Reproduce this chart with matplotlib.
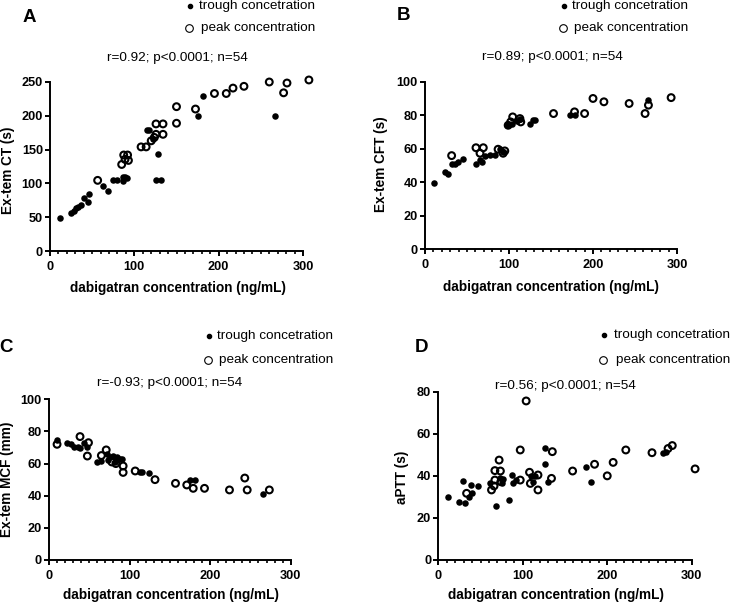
import matplotlib
matplotlib.use("Agg")
import matplotlib.pyplot as plt
from matplotlib.lines import Line2D
from matplotlib.ticker import MultipleLocator

plt.rcParams['font.family'] = ['Liberation Sans', 'DejaVu Sans']

# Panel A: Ex-tem CT (s)
a_trough_x = [12, 25, 28, 31, 33.5, 36.7, 40, 45, 46.6, 63, 68.4, 75, 79, 86, 89, 91, 86,
              114.6, 117.4, 122.5, 127.7, 125.7, 131.6, 176, 181, 267]
a_trough_y = [49, 55.8, 59, 63, 65, 68, 79, 73, 84.5, 96, 89, 104.6, 104.6, 110, 110, 107.5, 103.5,
              179, 179, 165, 143, 105, 105, 200, 229, 200]
a_peak_x = [56.5, 85, 87.4, 92, 93, 89, 108, 114, 120, 123.7, 125.7, 134, 125.7, 134,
            150, 150, 172.5, 195, 209, 217, 230, 260, 277, 281, 307]
a_peak_y = [104.5, 128, 142, 142, 134, 135.6, 154, 154, 163, 168, 188, 188, 172.6, 172.6,
            213.5, 189, 210, 233, 233, 241, 243.6, 250, 234, 248.5, 253]

# Panel B: Ex-tem CFT (s)
b_trough_x = [11, 23.8, 27.8, 31.7, 35.7, 39.7, 45.6, 61, 66, 68, 71, 77, 83, 89, 93,
              98, 103, 109, 113, 125, 129, 131, 173, 178, 266]
b_trough_y = [39.8, 46, 44.7, 50.9, 50.9, 51.9, 53.9, 50.7, 53, 52, 55.7, 56, 56, 60, 58,
              74, 75, 76.5, 78, 75, 77, 77, 80, 80, 89]
b_peak_x = [31.7, 60.7, 69.4, 65.5, 87, 95, 93, 99, 102, 104.4, 113, 114,
            153, 178, 190, 200, 213, 243, 262, 266, 293]
b_peak_y = [55.9, 60.6, 60.6, 57.3, 59.7, 58.7, 57.3, 74, 76, 79, 78, 76,
            81, 82, 81, 90, 88, 87, 81, 86, 90.5]

# Panel C: Ex-tem MCF (mm)
c_trough_x = [10, 22, 27, 31, 36, 38.5, 43, 47, 60, 64.5, 71.6, 75.7, 80, 84, 88, 90, 73.6, 82,
              113, 116, 124.5, 175, 181, 266]
c_trough_y = [74.7, 73, 72, 70.5, 70.5, 69.5, 72.6, 70.5, 61, 61.6, 66, 64, 65, 64, 63, 63, 62, 61,
              55, 55, 54, 50, 50, 41]
c_peak_x = [10, 38.5, 49, 47.6, 65, 71, 78, 92, 92, 83, 107, 131.6,
            157, 171, 179, 193, 224, 243, 246, 273.5]
c_peak_y = [72, 76.8, 73, 64.7, 65, 68.5, 61, 58.5, 54.5, 60, 55.4, 50,
            47.7, 46.7, 44.6, 44.6, 43.6, 51, 43.6, 43.6]

# Panel D: aPTT (s)
d_trough_x = [12, 25, 29, 31.6, 36.7, 38.7, 39.5, 46.6, 61, 68, 73, 75, 77, 84, 87, 88.8, 91.6,
              112.5, 110, 115, 126, 126, 130, 175, 181, 266, 270]
d_trough_y = [30, 27.7, 37.6, 27, 30, 35.7, 32, 35.2, 36.8, 25.8, 39, 36.8, 38.4, 28.5, 40.4, 36.8, 38,
              37.2, 40, 40, 45.5, 53.4, 37.2, 44.4, 37.2, 51, 51.5]
d_peak_x = [33.5, 63, 66, 67, 67, 72, 73.5, 74, 97, 97, 104, 108, 109, 118, 118,
            134, 135, 159, 185, 200, 207, 222, 253, 272, 277, 304]
d_peak_y = [31.7, 33.3, 35.2, 38, 42.5, 47.5, 42.3, 37.2, 52.3, 38, 75.6, 41.7, 36.4, 40.4, 33.3,
            38.8, 51.5, 42.3, 45.5, 40, 46.4, 52.3, 51, 53, 54.4, 43.3]

panel_letters = ['A', 'B', 'C', 'D']
y_labels = ['Ex-tem CT (s)', 'Ex-tem CFT (s)', 'Ex-tem MCF (mm)', 'aPTT (s)']
y_max = [250, 100, 100, 80]
y_step = [50, 20, 20, 20]
stats = ['r=0.92; p<0.0001; n=54', 'r=0.89; p<0.0001; n=54',
         'r=-0.93; p<0.0001; n=54', 'r=0.56; p<0.0001; n=54']
trough_label = 'trough concetration'
peak_label = 'peak concentration'
x_label = 'dabigatran concentration (ng/mL)'

panels = [(a_trough_x, a_trough_y, a_peak_x, a_peak_y),
          (b_trough_x, b_trough_y, b_peak_x, b_peak_y),
          (c_trough_x, c_trough_y, c_peak_x, c_peak_y),
          (d_trough_x, d_trough_y, d_peak_x, d_peak_y)]

W, H = 730, 605


def fx(x):
    return x / W


def fy(y):
    return 1 - y / H


# layout in pixels: axes box (left, top, right, bottom) and text anchors
axes_px = [(50, 82, 303, 251), (425, 81.7, 677, 249.3), (49, 399.3, 290.7, 560), (438.3, 391.7, 691.7, 560)]
letter_px = [(23, 17), (397, 16), (-1, 347), (415, 347)]
legend_px = [(190, 5.5, 199, 28), (564, 5.5, 572, 28), (209, 336, 217, 360), (604, 335, 614, 360)]
stats_px = [(177.5, 58), (552, 57), (170, 383), (565, 386)]
ylab_px = [(8, 170), (381, 164), (7.5, 479), (402, 477)]
xlab_px = [(177.5, 288), (551, 287), (171, 595), (556, 595)]

fig = plt.figure(figsize=(W / 100, H / 100), dpi=100)

for i, (tx, ty, px_, py_) in enumerate(panels):
    l, t, r, b = axes_px[i]
    ax = fig.add_axes([fx(l), fy(b), (r - l) / W, (b - t) / H])
    ax.scatter(px_, py_, s=24, facecolors='none', edgecolors='black', linewidths=1.5, clip_on=False, zorder=3)
    ax.scatter(tx, ty, s=22, color='black', linewidths=0, clip_on=False, zorder=4)
    ax.set_xlim(0, 300)
    ax.set_ylim(0, y_max[i])
    ax.xaxis.set_major_locator(MultipleLocator(100))
    ax.xaxis.set_minor_locator(MultipleLocator(10))
    ax.yaxis.set_major_locator(MultipleLocator(y_step[i]))
    for s in ['top', 'right']:
        ax.spines[s].set_visible(False)
    for s in ['left', 'bottom']:
        ax.spines[s].set_linewidth(1.4)
    ax.tick_params(which='major', length=3.6, width=1.4, pad=1.5, labelsize=9.2)
    ax.tick_params(axis='x', which='major', pad=3.5)
    ax.tick_params(which='minor', length=2.2, width=1.2)
    for lab in ax.get_xticklabels() + ax.get_yticklabels():
        lab.set_fontweight('bold')

    lx, ly = letter_px[i]
    fig.text(fx(lx), fy(ly), panel_letters[i], fontsize=13.5, fontweight='bold', ha='left', va='center')

    mx1, my1, tx1, my2 = legend_px[i]
    fig.add_artist(Line2D([fx(mx1)], [fy(my1)], marker='o', markersize=3, color='black',
                          linestyle='none', transform=fig.transFigure))
    fig.add_artist(Line2D([fx(mx1 - 1)], [fy(my2)], marker='o', markersize=5.5, markerfacecolor='white',
                          markeredgecolor='black', markeredgewidth=0.8, linestyle='none',
                          transform=fig.transFigure))
    fig.text(fx(tx1), fy(my1), trough_label, fontsize=9.7, ha='left', va='center')
    fig.text(fx(tx1 + 2), fy(my2), peak_label, fontsize=9.7, ha='left', va='center')

    sx, sy = stats_px[i]
    fig.text(fx(sx), fy(sy), stats[i], fontsize=9.7, ha='center', va='center')

    yx, yy = ylab_px[i]
    fig.text(fx(yx), fy(yy), y_labels[i], fontsize=9.8, fontweight='bold', rotation=90,
             ha='center', va='center')
    xx, xy = xlab_px[i]
    fig.text(fx(xx), fy(xy), x_label, fontsize=9.8, fontweight='bold', ha='center', va='center')

fig.savefig('out.png', dpi=100)
